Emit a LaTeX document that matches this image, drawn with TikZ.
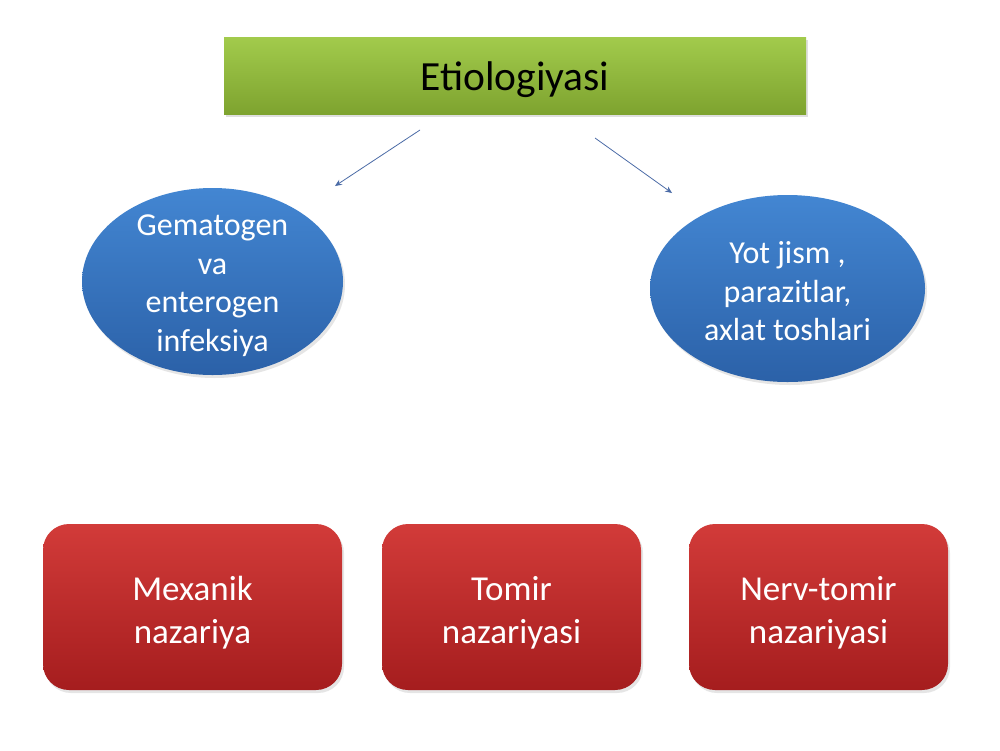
\documentclass[tikz,border=0pt]{standalone}
\usepackage{fontspec}
\setmainfont{Carlito}
\usetikzlibrary{arrows.meta,shapes.geometric,shadows}
\definecolor{gtop}{HTML}{A2CB4C}
\definecolor{gbot}{HTML}{7EA32F}
\definecolor{btop}{HTML}{4386D2}
\definecolor{bbot}{HTML}{2B61A8}
\definecolor{rtop}{HTML}{D23B39}
\definecolor{rbot}{HTML}{A51D1E}
\definecolor{arr}{HTML}{4A6BA6}
\tikzset{
  titlebox/.style={rectangle, top color=gtop, bottom color=gbot, draw=none,
    minimum width=582pt, minimum height=77pt, inner sep=0pt,
    drop shadow={shadow xshift=2pt, shadow yshift=-3pt, opacity=0.25}},
  titletext/.style={inner sep=0pt, font=\fontsize{41.5}{48}\selectfont, text=black},
  blueell/.style={ellipse, top color=btop, bottom color=bbot, draw=none, inner sep=0pt,
    drop shadow={shadow xshift=2pt, shadow yshift=-3pt, opacity=0.2}},
  elltext/.style={inner sep=0pt, align=center, text=white,
    font=\fontsize{32}{38.5}\selectfont},
  redbox/.style={rectangle, rounded corners=26pt, top color=rtop, bottom color=rbot,
    draw=none, minimum height=166pt, inner sep=0pt,
    drop shadow={shadow xshift=2pt, shadow yshift=-3pt, opacity=0.2}},
  boxtext/.style={inner sep=0pt, align=center, text=white,
    font=\fontsize{35}{43}\selectfont},
  conn/.style={draw=arr, line width=0.8pt, -{Stealth[length=7pt,width=6pt,inset=2.5pt]}}
}
\begin{document}
\begin{tikzpicture}[x=1pt,y=-1pt]
\useasboundingbox[fill=white] (0,0) rectangle (1000,750);
\node[titlebox] (title) at (515,75.5) {};
\node[titletext] (titlet) at (515,79.5) {Etiologiyasi};
\node[blueell, minimum width=261pt, minimum height=187pt] (gem) at (212.5,281.5) {};
\node[elltext] (gemt) at (212.5,285.5) {Gematogen\\va\\enterogen\\infeksiya};
\node[blueell, minimum width=275pt, minimum height=187pt] (yot) at (787.5,288.5) {};
\node[elltext] (yott) at (787.5,291.5) {Yot jism ,\\parazitlar,\\axlat toshlari};
\node[redbox, minimum width=299pt] (mex) at (192.5,607) {};
\node[boxtext] (mext) at (192.5,613) {Mexanik\\nazariya};
\node[redbox, minimum width=259pt] (tom) at (511.5,607) {};
\node[boxtext] (tomt) at (511.5,613) {Tomir\\nazariyasi};
\node[redbox, minimum width=259pt] (nerv) at (818.5,607) {};
\node[boxtext] (nervt) at (818.5,613) {Nerv-tomir\\nazariyasi};
\coordinate (a1s) at (420,130);
\coordinate (a1e) at (335,186);
\coordinate (a2s) at (595,138);
\coordinate (a2e) at (672,193);
\draw[conn] (a1s) -- (a1e);
\draw[conn] (a2s) -- (a2e);
\end{tikzpicture}
\end{document}
